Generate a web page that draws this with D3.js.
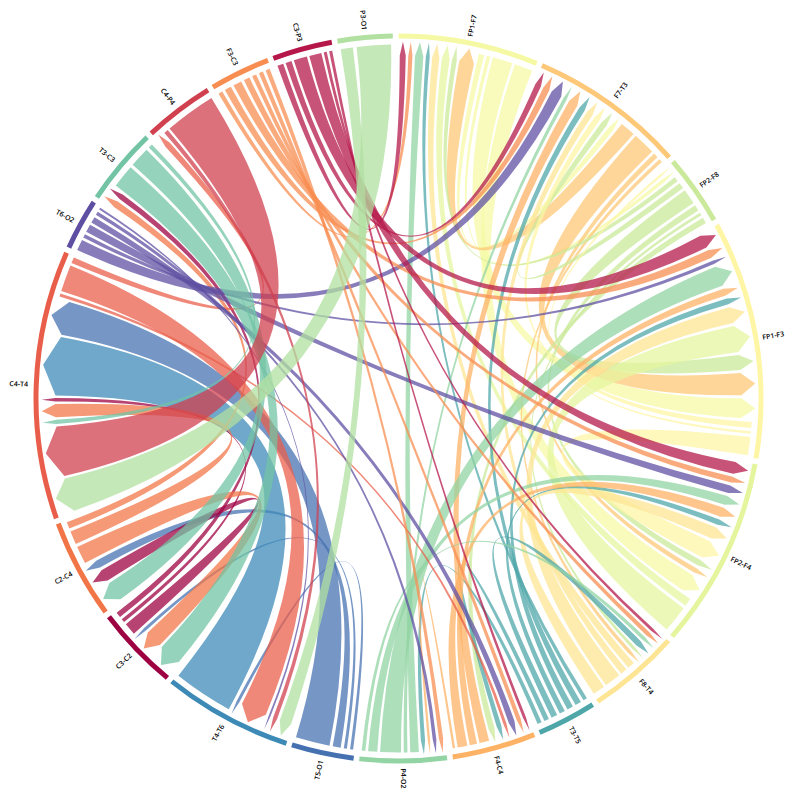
<!DOCTYPE html>
<html>
<head>
<meta charset="utf-8">
<script src="https://cdn.jsdelivr.net/npm/d3@7"></script>
<style>html,body{margin:0;padding:0;background:#fff}svg{display:block}</style>
</head>
<body>
<svg id="chart" width="797" height="797"></svg>
<script>
const groupNames = ["FP1-F7","F7-T3","FP2-F8","FP1-F3","FP2-F4","F8-T4","T3-T5","F4-C4","P4-O2","T5-O1","T4-T6","C3-C2","C2-C4","C4-T4","T6-O2","T3-C3","C4-P4","F3-C3","C3-P3","P3-O1"];
const groupColors = ["#f5f9a4","#fdc877","#cbe99a","#fef5a5","#e5f59e","#fee593","#4ea6a9","#fdb265","#92d4a3","#4671b1","#3d8ab7","#9e0142","#f17547","#e95e4a","#5e4fa2","#72c4a5","#d0404e","#f88d51","#b5174a","#b1e0a0"];
const groupSpans = [22.4,25.0,11.3,38.1,30.6,14.8,9.5,13.4,13.9,10.0,20.7,13.4,15.9,43.0,8.2,12.4,11.3,9.7,9.6,8.8];
const sectorPad = 0.9;
const flowSources = [
 18,17,8,6,5,4,2,1,
 18,17,14,8,7,6,5,3,2,0,
 3,0,
 18,17,14,8,7,6,5,4,2,1,0,
 18,17,14,8,7,6,5,3,2,1,0,
 18,17,8,6,2,1,
 18,17,14,13,6,2,
 17,14,7,6,
 19,16,14,13,9,
 15,12,9,
 15,11,9,
 19,16,15,12,11,10,9,
 12,11,
 13];
const flowTargets = [
 0,0,0,0,0,0,0,0,
 1,1,1,1,1,1,1,1,1,1,
 2,2,
 3,3,3,3,3,3,3,3,3,3,3,
 4,4,4,4,4,4,4,4,4,4,4,
 5,5,5,5,5,5,
 7,7,7,7,7,7,
 8,8,8,8,
 10,10,10,10,10,
 11,11,11,
 12,12,12,
 13,13,13,13,13,13,13,
 15,15,
 16];
const flowValues = [
 1.0,0.7,1.4,0.65,1.2,1.3,0.8,2.5,
 1.0,1.1,1.8,0.6,1.6,1.0,1.1,1.0,1.0,0.9,
 0.4,0.6,
 2.2,1.4,0.6,3.4,1.2,1.0,2.7,4.4,2.5,3.7,3.3,
 2.0,1.0,1.3,1.5,1.6,0.9,2.0,3.0,1.0,0.8,3.0,
 0.5,0.7,0.6,1.0,0.5,0.6,
 0.5,0.7,1.0,0.5,0.8,1.0,
 0.7,0.6,0.4,0.7,
 2.0,0.7,0.3,4.4,0.5,
 3.8,2.9,0.5,
 3.3,2.0,1.3,
 5.6,8.4,0.7,2.2,0.6,9.8,5.6,
 1.1,0.9,
 1.0];

const W = 797, cx = 398.5, cy = 398.5;
const ringOuter = 365, ringInner = 360, flatR = 354, tipR = 357, headLen = 14;

const svg = d3.select("#chart");
const root = svg.append("g").attr("transform", `translate(${cx},${cy})`);
const angle = d3.scaleLinear().domain([0, 360]).range([0, 2 * Math.PI]);

const flows = flowValues.map((v, i) => ({source: flowSources[i], target: flowTargets[i], value: v}));

let cursor = 0;
const groups = groupNames.map((name, i) => {
  const g = {index: i, name, start: cursor, end: cursor + groupSpans[i]};
  cursor = g.end + sectorPad;
  return g;
});

// within a sector: incoming by source descending, then outgoing by target ascending
groups.forEach(g => {
  const incoming = flows.filter(f => f.target === g.index).sort((a, b) => b.source - a.source);
  const outgoing = flows.filter(f => f.source === g.index).sort((a, b) => a.target - b.target);
  const slots = incoming.map(f => ({f, end: "t"})).concat(outgoing.map(f => ({f, end: "s"})));
  const total = d3.sum(slots, s => s.f.value);
  const gap = (g.end - g.start - total) / slots.length;
  let a = g.start + gap / 2;
  slots.forEach(s => {
    s.f[s.end === "t" ? "tA" : "sA"] = [a, a + s.f.value];
    a += s.f.value + gap;
  });
});

const ribbon = d3.ribbonArrow()
  .sourceRadius(flatR).targetRadius(tipR).headRadius(headLen)
  .startAngle(d => angle(d[0])).endAngle(d => angle(d[1]));

root.append("g").selectAll("path")
  .data(d3.sort(flows, f => f.source))
  .join("path")
  .attr("d", f => ribbon({source: f.sA, target: f.tA}))
  .attr("fill", f => groupColors[f.source])
  .attr("fill-opacity", 0.74);

const ring = d3.arc().innerRadius(ringInner).outerRadius(ringOuter);
root.append("g").selectAll("path")
  .data(groups)
  .join("path")
  .attr("d", g => ring({startAngle: angle(g.start), endAngle: angle(g.end)}))
  .attr("fill", g => groupColors[g.index]);

const labelR = 380;
root.append("g").selectAll("text")
  .data(groups)
  .join("text")
  .attr("transform", g => {
    const m = (g.start + g.end) / 2;
    const flip = m > 180.5;
    return `rotate(${m - 90}) translate(${labelR},0)` + (flip ? " rotate(180)" : "");
  })
  .attr("text-anchor", "middle")
  .attr("dominant-baseline", "central")
  .attr("font-family", "'Open Sans', sans-serif")
  .attr("font-weight", 600)
  .attr("font-size", 7)
  .attr("fill", "#000")
  .text(g => g.name);
</script>
</body>
</html>
